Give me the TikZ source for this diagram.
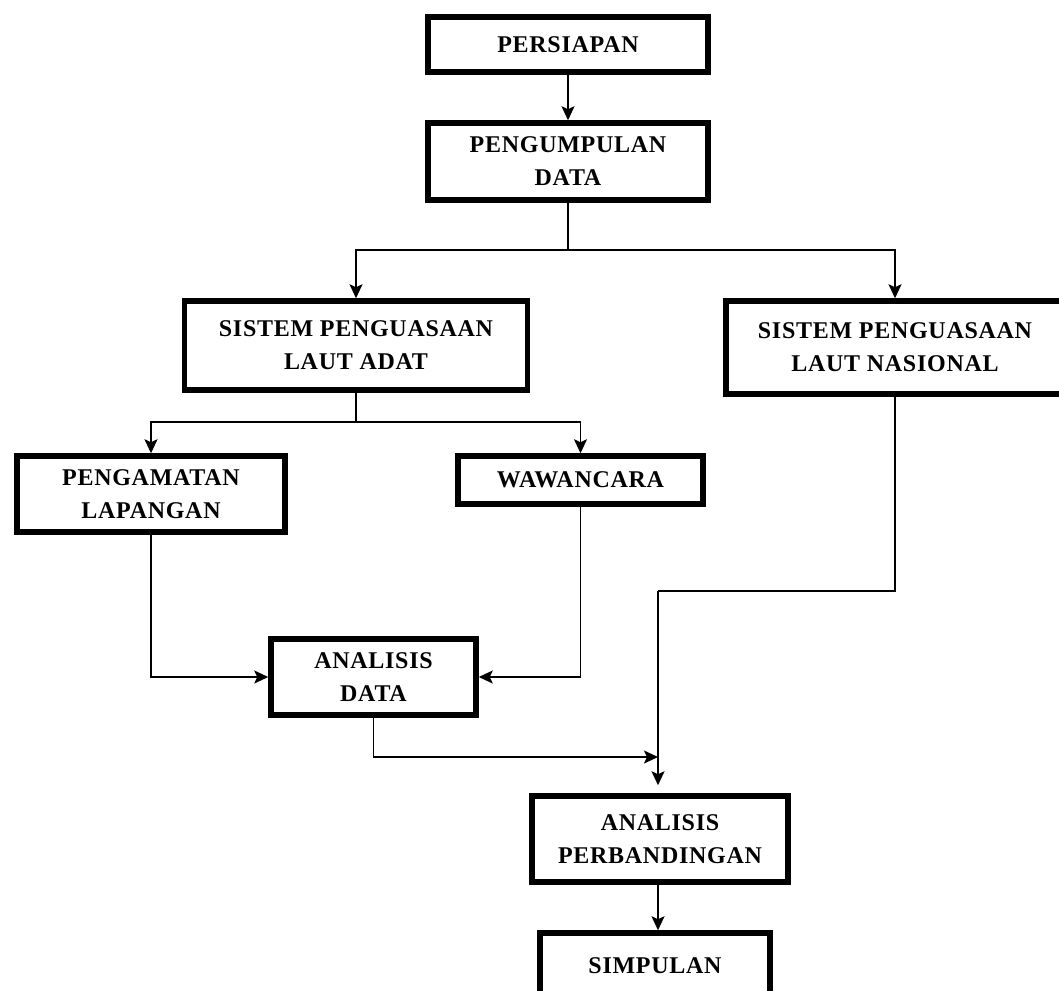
\documentclass[tikz,border=0pt]{standalone}
\usepackage{fontspec}
\setmainfont{Liberation Serif}[LetterSpace=3]
\usetikzlibrary{arrows.meta}
\begin{document}
\begin{tikzpicture}[x=1pt,y=-1pt,
  box/.style={draw=black, line width=5.5pt, rectangle, align=center,
    font=\fontsize{24}{33}\selectfont\bfseries, inner sep=0pt},
  conn/.style={draw=black, line width=1.8pt, -{Stealth[length=14pt,width=13pt,inset=3pt]}},
  plain/.style={draw=black, line width=1.8pt}]
\clip (0,0) rectangle (1059,990);
\fill[white] (0,0) rectangle (1059,990);
\node[box, minimum width=280pt, minimum height=55pt] (persiapan) at (568,44.5) {PERSIAPAN};
\node[box, minimum width=280pt, minimum height=77pt] (pengumpulan) at (568,161.5) {PENGUMPULAN\\DATA};
\node[box, minimum width=343pt, minimum height=89pt] (adat) at (356,345.5) {SISTEM PENGUASAAN\\LAUT ADAT};
\node[box, minimum width=338pt, minimum height=93pt] (nasional) at (895,347.5) {SISTEM PENGUASAAN\\LAUT NASIONAL};
\node[box, minimum width=268pt, minimum height=76pt] (pengamatan) at (151,494) {PENGAMATAN\\LAPANGAN};
\node[box, minimum width=245pt, minimum height=48pt] (wawancara) at (580.5,480) {WAWANCARA};
\node[box, minimum width=205pt, minimum height=76pt] (analisisdata) at (373.5,677) {ANALISIS\\DATA};
\node[box, minimum width=256pt, minimum height=86pt] (perbandingan) at (660,839) {ANALISIS\\PERBANDINGAN};
\node[box, minimum width=230pt, minimum height=66pt] (simpulan) at (655,966) {SIMPULAN};
\coordinate (j1) at (568,250);
\coordinate (j2) at (356,422);
\coordinate (j3) at (658,591);
\coordinate (j4) at (658,757);
\path[conn] (persiapan.south) -- (pengumpulan.north);
\path[plain] (pengumpulan.south) -- (j1);
\path[conn] (j1) -| (adat.north);
\path[conn] (j1) -| (nasional.north);
\path[plain] (adat.south) -- (j2);
\path[conn] (j2) -| (pengamatan.north);
\path[conn] (j2) -| (wawancara.north);
\path[conn] (pengamatan.south) |- (analisisdata.west);
\path[conn] (wawancara.south) |- (analisisdata.east);
\path[plain] (nasional.south) |- (j3);
\path[conn, shorten >=8pt] (j3) -- (j3 |- perbandingan.north);
\path[conn] (analisisdata.south) |- (j4);
\path[conn] (perbandingan.south -| j4) -- (simpulan.north -| j4);
\end{tikzpicture}
\end{document}
